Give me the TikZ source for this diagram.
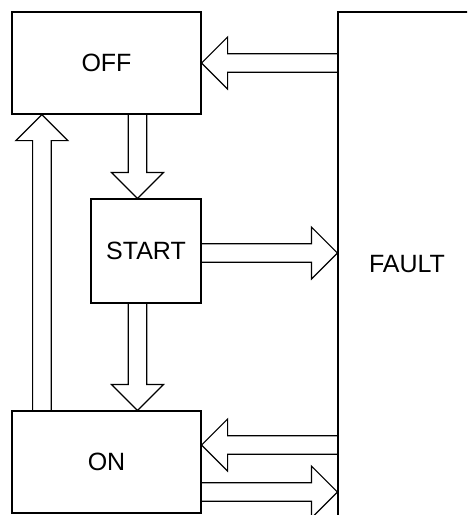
\documentclass[tikz,border=0pt]{standalone}
\usepackage{fontspec}
\setmainfont{Liberation Sans}
\usetikzlibrary{calc}

\tikzset{
  statebox/.style={draw, line width=1.2pt, inner sep=0pt, font=\fontsize{25}{30}\selectfont},
  hollow/.style={draw, line width=1.2pt, line join=miter},
}

% hollow block arrow from #1 to the tip #2
\newcommand{\blockarrow}[2]{%
  \coordinate (hb) at ($(#2)!26pt!(#1)$);
  \draw[hollow] ($(#1)!9.3pt!90:(#2)$) -- ($(hb)!9.3pt!90:(#2)$) -- ($(hb)!26pt!90:(#2)$)
    -- (#2) -- ($(hb)!26pt!-90:(#2)$) -- ($(hb)!9.3pt!-90:(#2)$) -- ($(#1)!9.3pt!-90:(#2)$);
}

\begin{document}
\begin{tikzpicture}[x=1pt, y=-1pt]
    % Page area, pixel coordinates with y going down
    \useasboundingbox (0, 0) rectangle (467, 515);
    \clip (0, 0) rectangle (467, 515);

    % State boxes
    \node[statebox, minimum width=189pt, minimum height=102pt] (off) at (106.5, 63) {OFF};
    \node[statebox, minimum width=110pt, minimum height=104pt] (start) at (146, 251) {START};
    \node[statebox, minimum width=189pt, minimum height=102pt] (on) at (106.5, 462) {ON};
    \node[statebox, minimum width=138pt, minimum height=504pt] (fault) at (407, 264) {FAULT};% right side runs off the page

    % Anchor points for the arrows
    \coordinate (s1) at ($(start.north)+(-8.5, 0)$);
    \coordinate (o1) at (off.south -| s1);
    \coordinate (s2) at (start.south -| s1);
    \coordinate (n1) at (on.north -| s1);
    \coordinate (n2) at ($(on.north west)+(30.5, 0)$);
    \coordinate (o2) at (off.south -| n2);
    \coordinate (s3) at ($(start.east)+(0, 2)$);
    \coordinate (n3) at ($(on.east)+(0, -17)$);
    \coordinate (n4) at ($(on.east)+(0, 30)$);

    % Transitions
    \blockarrow{fault.west |- off.east}{off.east}
    \blockarrow{o1}{s1}
    \blockarrow{s3}{fault.west |- s3}
    \blockarrow{s2}{n1}
    \blockarrow{n2}{o2}
    \blockarrow{fault.west |- n3}{n3}
    \blockarrow{n4}{fault.west |- n4}
\end{tikzpicture}
\end{document}
